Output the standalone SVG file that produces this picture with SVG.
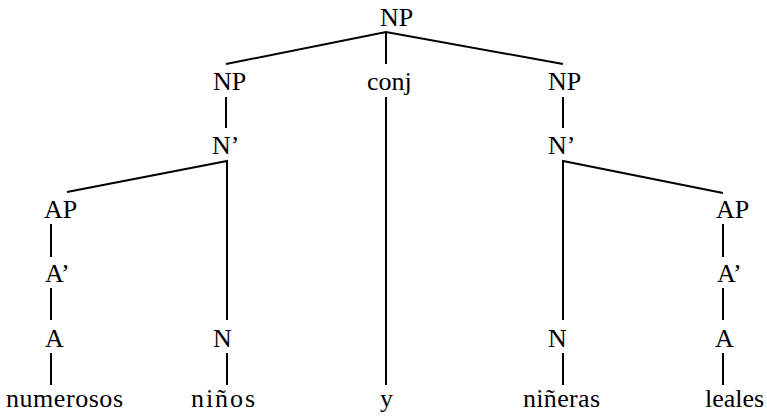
<svg xmlns="http://www.w3.org/2000/svg" width="767" height="419" viewBox="0 0 767 419">
  <rect width="767" height="419" fill="#fff"/>

  <!-- tree branches -->
  <g id="connectors" stroke="#000" stroke-width="2" fill="none">
    <path d="M226 64 L386 32 L563 64 M386 32 V64"/>
    <path d="M226 97 V128 M386 97 V385 M563 97 V128"/>
    <path d="M67 192 L227 161 V320 M723 193 L563 161 V320"/>
    <path d="M51 224 V257 M51 288 V320 M51 353 V385"/>
    <path d="M227 353 V385 M563 353 V385"/>
    <path d="M723 224 V257 M723 288 V320 M723 353 V385"/>
  </g>

  <g font-family="Liberation Serif, serif" font-size="26" fill="#000">
    <!-- category labels -->
    <g id="np-root"><text x="380" y="26">NP</text></g>
    <g id="np-left"><text x="213" y="90">NP</text></g>
    <g id="conj"><text x="367" y="90">conj</text></g>
    <g id="np-right"><text x="548" y="90">NP</text></g>
    <g id="nbar-left"><text x="212" y="154">N&#8217;</text></g>
    <g id="nbar-right"><text x="548" y="154">N&#8217;</text></g>
    <g id="ap-left"><text x="44" y="218">AP</text></g>
    <g id="ap-right"><text x="716" y="218">AP</text></g>
    <g id="abar-left"><text x="45" y="282">A&#8217;</text></g>
    <g id="abar-right"><text x="717" y="282">A&#8217;</text></g>
    <g id="a-left"><text x="45" y="347">A</text></g>
    <g id="n-left"><text x="213" y="347">N</text></g>
    <g id="n-right"><text x="548" y="347">N</text></g>
    <g id="a-right"><text x="715" y="347">A</text></g>

    <!-- words -->
    <g id="w-numerosos"><text x="6" y="407" textLength="117" lengthAdjust="spacing">numerosos</text></g>
    <g id="w-ninos"><text x="191" y="407" textLength="64" lengthAdjust="spacing">ni&#241;os</text></g>
    <g id="w-y"><text x="380" y="407">y</text></g>
    <g id="w-nineras"><text x="523" y="407" textLength="77" lengthAdjust="spacing">ni&#241;eras</text></g>
    <g id="w-leales"><text x="705" y="407">leales</text></g>
  </g>
</svg>
